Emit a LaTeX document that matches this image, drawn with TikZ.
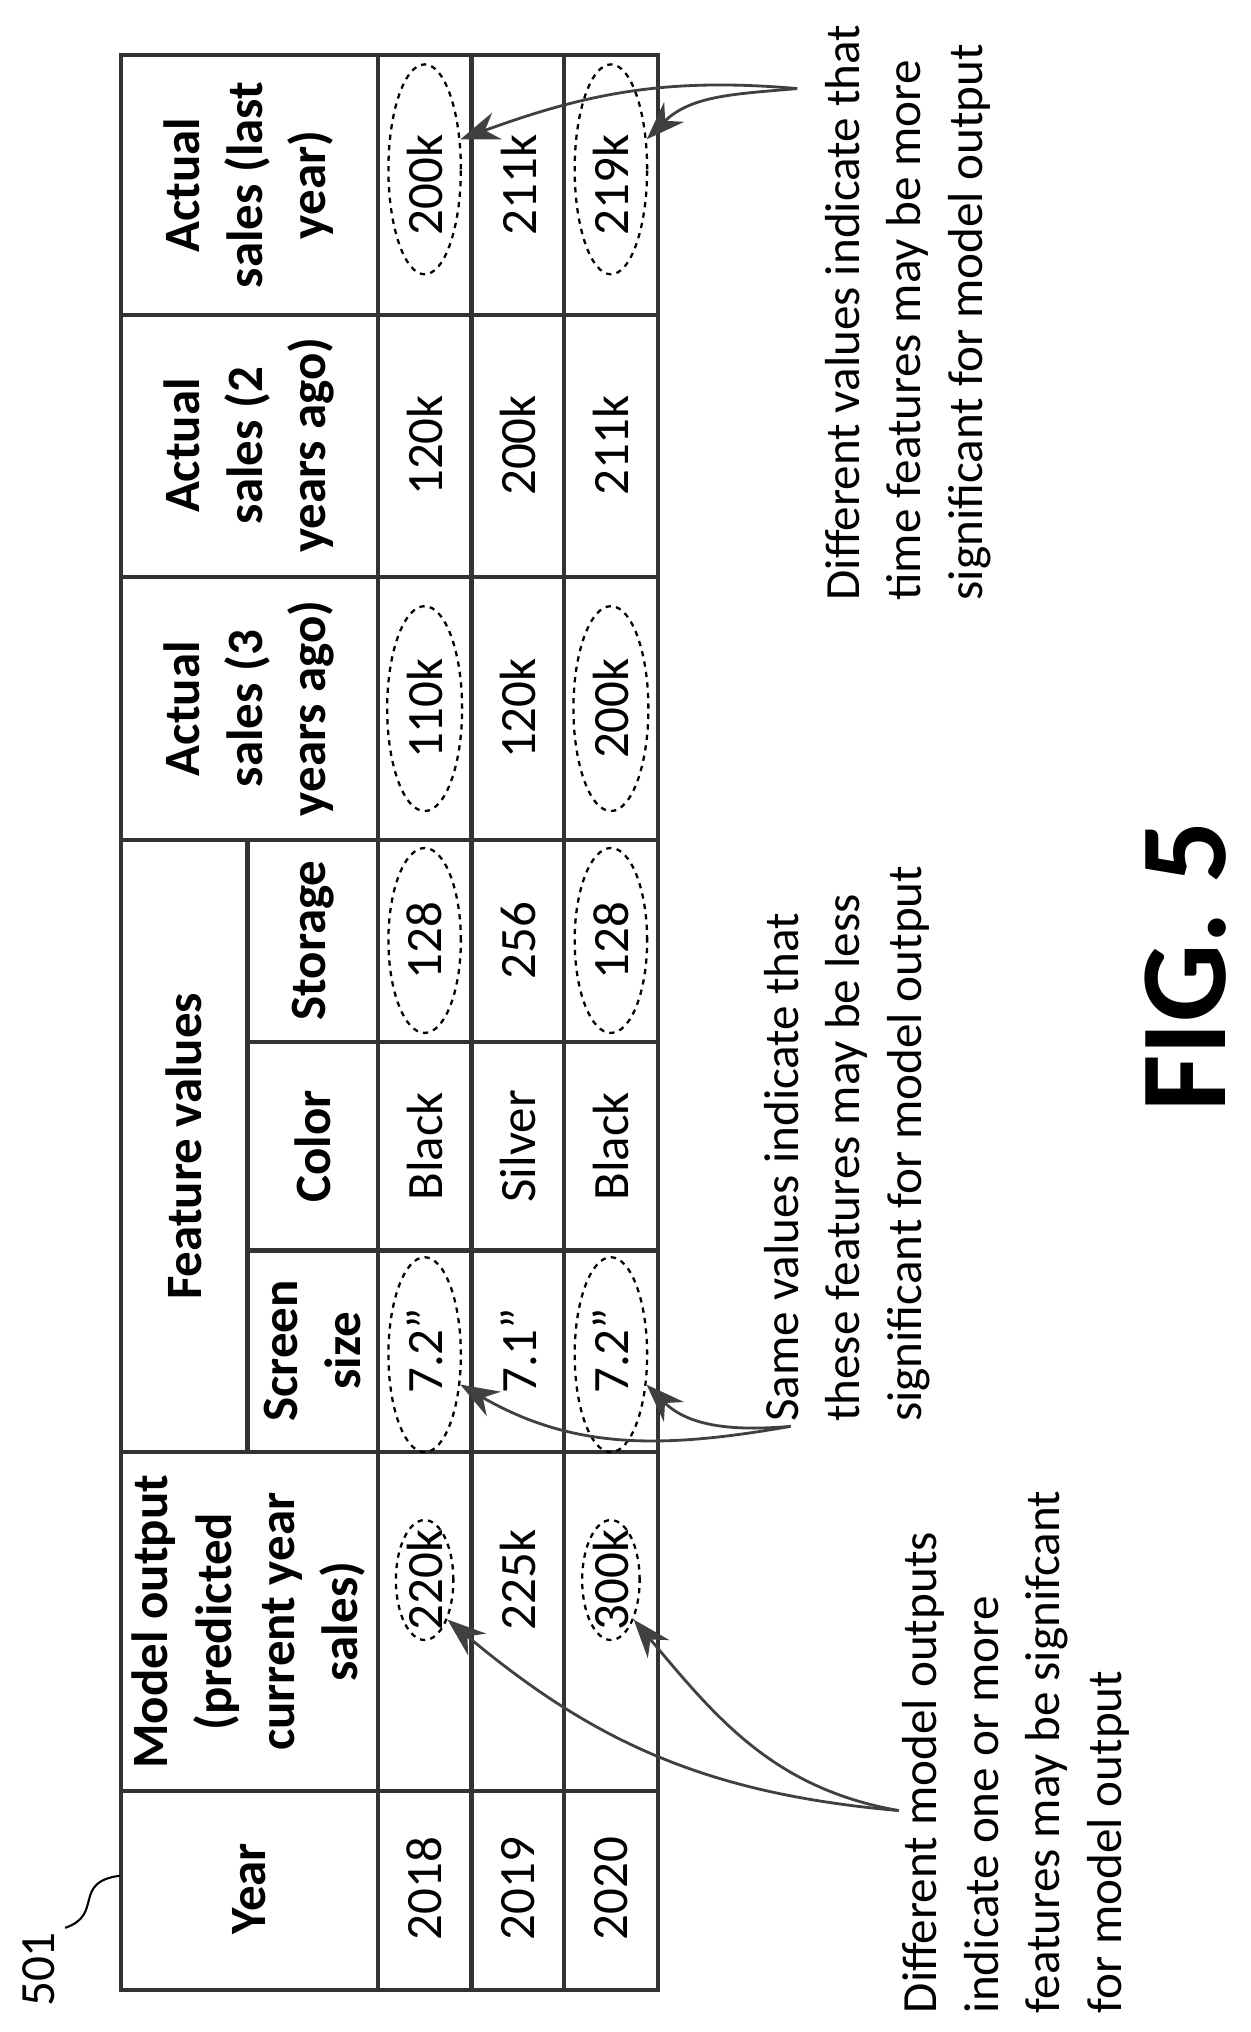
\documentclass[tikz,border=0pt]{standalone}
\usepackage{fontspec}
\setmainfont{Carlito}
\usetikzlibrary{arrows.meta, shapes.geometric}

\begin{document}
\begin{tikzpicture}[x=0.02606cm, y=-0.02606cm,
    grid/.style={draw=black!80, line width=2.4pt},
    cell/.style={rotate=90, align=center, font=\fontsize{29}{36}\selectfont},
    head/.style={cell, font=\fontsize{29}{36}\selectfont\bfseries},
    oval/.style={ellipse, draw, dashed, line width=1.3pt, inner sep=0pt},
    note/.style={rotate=90, align=left, font=\fontsize{28}{35}\selectfont},
    pointer/.style={draw=black!75, line width=1.6pt, -{Stealth[length=22pt, width=16pt]}}
]
\useasboundingbox (0,0) rectangle (960,1560);

% Table frame
\draw[grid] (93,42) rectangle (505,1528);
\foreach \x in {290,362,433} \draw[grid] (\x,42) -- (\x,1528);
\foreach \y in {242,443,645,1115,1375} \draw[grid] (93,\y) -- (505,\y);
\draw[grid] (190,645) -- (190,1115);
\foreach \y in {800,960} \draw[grid] (190,\y) -- (505,\y);

% Headers
\node[head] (hyear) at (191,1450) {Year};
\node[head] (hmodel) at (191,1245) {Model output\\(predicted\\current year\\sales)};
\node[head] (hfeat) at (141,880) {Feature values};
\node[head] (hscreen) at (240,1037) {Screen\\size};
\node[head] (hcolor) at (240,880) {Color};
\node[head] (hstor) at (240,722) {Storage};
\node[head] (hthree) at (191,544) {Actual\\sales (3\\years ago)};
\node[head] (htwo) at (191,342) {Actual\\sales (2\\years ago)};
\node[head] (hlast) at (191,142) {Actual\\sales (last\\year)};

% Rows
\foreach \x/\yr/\mo/\sc/\co/\st/\a/\b/\c in {
    326/2018/220k/7.2"/Black/128/110k/120k/200k,
    398/2019/225k/7.1"/Silver/256/120k/200k/211k,
    469/2020/300k/7.2"/Black/128/200k/211k/219k} {
  \node[cell] at (\x,1450) {\yr};
  \node[cell] at (\x,1213) {\mo};
  \node[cell] at (\x,1037) {\sc};
  \node[cell] at (\x,880) {\co};
  \node[cell] at (\x,722) {\st};
  \node[cell] at (\x,544) {\a};
  \node[cell] at (\x,342) {\b};
  \node[cell] at (\x,142) {\c};
}

% Dashed ovals
\node[oval, minimum width=1.15cm, minimum height=2.4cm] (o220) at (326,1213) {};
\node[oval, minimum width=1.15cm, minimum height=2.4cm] (o300) at (469,1213) {};
\node[oval, minimum width=1.45cm, minimum height=3.9cm] (oscrA) at (326,1040) {};
\node[oval, minimum width=1.45cm, minimum height=3.9cm] (oscrB) at (469,1040) {};
\node[oval, minimum width=1.45cm, minimum height=3.7cm] (ostA) at (326,722) {};
\node[oval, minimum width=1.45cm, minimum height=3.7cm] (ostB) at (469,722) {};
\node[oval, minimum width=1.5cm, minimum height=4.1cm] (othA) at (326,544) {};
\node[oval, minimum width=1.5cm, minimum height=4.1cm] (othB) at (469,544) {};
\node[oval, minimum width=1.45cm, minimum height=4.2cm] (olaA) at (326,130) {};
\node[oval, minimum width=1.45cm, minimum height=4.2cm] (olaB) at (469,130) {};

% Notes
\node[note] (ntime) at (697,240) {Different values indicate that\\time features may be more\\significant for model output};
\node[note] (nsame) at (650,878) {Same values indicate that\\these features may be less\\significant for model output};
\node[note] (nmodel) at (780,1345) {Different model outputs\\indicate one or more\\features may be signifcant\\for model output};

\coordinate (ptime) at (612,68);
\coordinate (psame) at (607,1095);
\coordinate (pmodel) at (690,1390);

% Pointers
\draw[pointer] (ptime) to[out=175, in=20] (olaA.40);
\draw[pointer] (ptime) to[out=185, in=45] (olaB.40);
\draw[pointer] (psame) to[out=190, in=-30] (oscrA.-40);
\draw[pointer] (psame) to[out=185, in=-45] (oscrB.-40);
\draw[pointer] (pmodel) to[out=175, in=-40] (o220.-60);
\draw[pointer] (pmodel) to[out=170, in=-50] (o300.-60);

% Label and figure number
\node[rotate=90, font=\fontsize{28}{34}\selectfont] (lbl) at (30,1512) {501};
\draw[line width=1.2pt] (50,1480) .. controls (80,1470) and (55,1445) .. (92,1440);
\node[rotate=90, font=\fontsize{70}{76}\selectfont\bfseries] (fig) at (910,742) {FIG. 5};
\end{tikzpicture}
\end{document}
